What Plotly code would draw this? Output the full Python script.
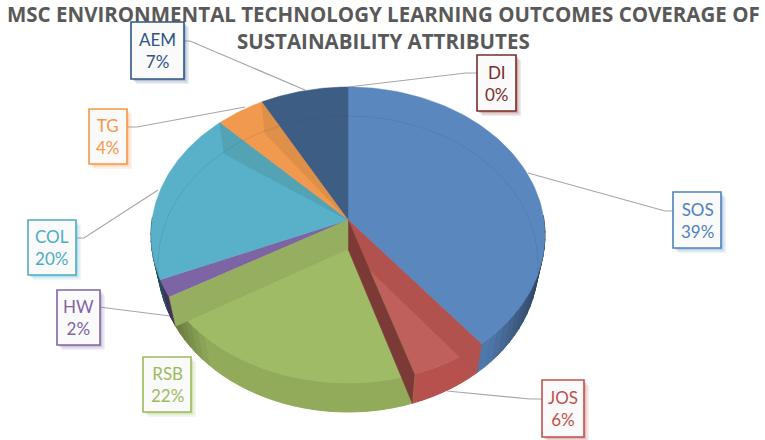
import numpy as np
import plotly.graph_objects as go

names = ["SOS", "JOS", "RSB", "HW", "COL", "TG", "AEM", "DI"]
values = [39.0, 6.0, 22.4, 2.2, 19.9, 3.9, 6.6, 0.0]
top_colors = ["#5B87BF", "#C0605C", "#A0BB66", "#7D64A4", "#58B0C9", "#F0994F", "#3E5D85", "#772C2A"]
wall_colors = ["#4F76A8", "#B4504D", "#8FA85A", "#5F4A80", "#3F8296", "#C97B3A", "#2F4A6C", "#772C2A"]
text_colors = ["#4F81BD", "#C0504D", "#9BBB59", "#8064A2", "#4BACC6", "#F79646", "#2F5486", "#772C2A"]
band_colors = ["#B1524F", "#7C3A36", "#96AE5F", None, "#53A3B4", "#DE8F48", None, None]
title_lines = ["MSC ENVIRONMENTAL TECHNOLOGY LEARNING OUTCOMES COVERAGE OF", "SUSTAINABILITY ATTRIBUTES"]

# label box (x0, y0, x1, y1) and leader line per slice, in layout units
boxes = {
    "SOS": (673, 192, 721, 248), "JOS": (542, 380, 584, 437), "RSB": (143, 357, 191, 412),
    "HW": (57, 290, 100, 345), "COL": (28, 220, 76, 275), "TG": (89, 109, 127, 164),
    "AEM": (131, 22, 184, 79), "DI": (477, 55, 516, 111),
}
leaders = {
    "SOS": [(673, 211), (665, 211), (528, 173)], "JOS": [(542, 399), (530, 399), (447, 391)],
    "RSB": [], "HW": [(100, 307), (107, 308), (170, 316)],
    "COL": [(76, 238), (84, 238), (158, 190)], "TG": [(127, 127), (137, 127), (245, 107)],
    "AEM": [(184, 41), (190, 41), (305, 90)], "DI": [(477, 73), (466, 73), (348, 87)],
}

CX, CY, RX, RY = 348, 235, 197, 148
BASE_RX = 190
APEX = (348, 220)
DEPTH = 29
WARP = np.radians(3)  # perspective distortion of the slice angles


def rim(t):
    return CX + RX * np.sin(t), CY - RY * np.cos(t)


def base(t):
    return CX + BASE_RX * np.sin(t), CY + DEPTH - RY * np.cos(t)


def poly(fig, xs, ys, color, width=0, line=None):
    fig.add_trace(go.Scatter(x=list(xs), y=list(ys), mode="lines", fill="toself", fillcolor=color,
                             line=dict(color=line or color, width=width), hoverinfo="skip", showlegend=False))


fig = go.Figure()

for n in names:
    pts = leaders[n]
    if pts:
        fig.add_trace(go.Scatter(x=[p[0] for p in pts], y=[p[1] for p in pts], mode="lines",
                                 line=dict(color="#A6A6A6", width=1.2), hoverinfo="skip", showlegend=False))

edges = np.cumsum([0] + values) / sum(values) * 2 * np.pi
edges = edges + WARP * np.sin(2 * edges)


def shade(hex_color, f):
    r, g, b = [int(hex_color[i:i + 2], 16) for i in (1, 3, 5)]
    return f"rgb({min(255, int(r * f))},{min(255, int(g * f))},{min(255, int(b * f))})"


# outer walls, darkened towards the silhouette of the cylinder
for i, n in enumerate(names):
    a, b = edges[i], edges[i + 1]
    if b - a <= 0:
        continue
    steps = max(2, int((b - a) / np.radians(3)))
    ts = np.linspace(a, b, steps + 1)
    for t0, t1 in zip(ts[:-1], ts[1:]):
        tm = (t0 + t1) / 2
        if np.cos(tm) > 0.12:
            continue
        f = 1.02 - 0.45 * max(0, abs(np.sin(tm)) - 0.72) / 0.28
        x0, y0 = rim(t0)
        x1, y1 = rim(t1)
        x2, y2 = base(t1)
        x3, y3 = base(t0)
        poly(fig, [x0, x1, x2, x3, x0], [y0, y1, y2, y3, y0], shade(wall_colors[i], f), 1)

# top surface of the slices
for i, n in enumerate(names):
    a, b = edges[i], edges[i + 1]
    if b - a <= 0:
        continue
    ts = np.linspace(a, b, 80)
    xs, ys = rim(ts)
    poly(fig, [APEX[0], *xs, APEX[0]], [APEX[1], *ys, APEX[1]], top_colors[i], 0.5)

# inner side walls of the cut faces, seen through the surface
for i, n in enumerate(names):
    if band_colors[i] is None:
        continue
    t = edges[i + 1]
    px, py = rim(t)
    qx, qy = base(t)
    if np.cos(t) > 0:
        # back half: the face narrows to the centre
        poly(fig, [APEX[0], px, qx, APEX[0]], [APEX[1], py, qy + 2, APEX[1]], band_colors[i], 0.5)
    else:
        poly(fig, [APEX[0], px, qx, APEX[0], APEX[0]],
             [APEX[1], py, qy, APEX[1] + DEPTH, APEX[1]], band_colors[i], 0.5)

# base disc outline visible through the surface
ts = np.linspace(0, 2 * np.pi, 361)
bx, by = base(ts)
inside = ((bx - CX) / RX) ** 2 + ((by - CY) / RY) ** 2 < 1
bx = np.where(inside, bx, np.nan)
by = np.where(inside, by, np.nan)
fig.add_trace(go.Scatter(x=bx, y=by, mode="lines", line=dict(color="rgba(60,60,60,0.13)", width=1),
                         hoverinfo="skip", showlegend=False))

shapes = []
annotations = []
for i, n in enumerate(names):
    x0, y0, x1, y1 = boxes[n]
    c = text_colors[i]
    for off, op in ((5, 0.10), (3.5, 0.14), (2, 0.2)):
        shapes.append(dict(type="rect", x0=x0 + off, x1=x1 + off, y0=y0 + off, y1=y1 + off,
                           fillcolor=c, opacity=op, line=dict(width=0), layer="above"))
    shapes.append(dict(type="rect", x0=x0, x1=x1, y0=y0, y1=y1, fillcolor="#FAFAFA",
                       line=dict(color=c, width=1.6), layer="above"))
    annotations.append(dict(x=(x0 + x1) / 2, y=(y0 + y1) / 2, text=f"{n}<br>{round(values[i])}%",
                            showarrow=False, font=dict(family="Lato", size=17, color=c), align="center",
                            xref="x", yref="y"))

for line, y in zip(title_lines, (14, 41)):
    annotations.append(dict(x=383, y=y, text=f"<b>{line}</b>", showarrow=False, xref="x", yref="y",
                            font=dict(family="Open Sans", size=20.5, color="#595959")))

fig.update_layout(
    width=765, height=440, margin=dict(l=0, r=0, t=0, b=0), paper_bgcolor="white", plot_bgcolor="white",
    showlegend=False, shapes=shapes, annotations=annotations,
    xaxis=dict(range=[0, 765], visible=False, fixedrange=True),
    yaxis=dict(range=[440, 0], visible=False, fixedrange=True),
)
fig.write_html("out.html", config={"displayModeBar": False},
               post_script="document.body.style.margin='0';document.documentElement.style.overflow='hidden';")
